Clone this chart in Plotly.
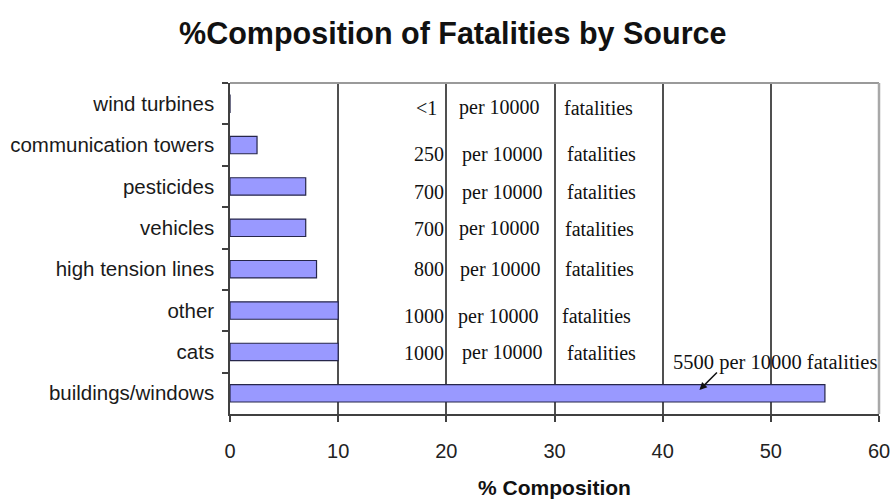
import plotly.graph_objects as go

# Sources, listed top to bottom
sources = [
    "wind turbines",
    "communication towers",
    "pesticides",
    "vehicles",
    "high tension lines",
    "other",
    "cats",
    "buildings/windows",
]

# Fatalities per 10000 attributed to each source
per_10000 = [0.5, 250, 700, 700, 800, 1000, 1000, 5500]

# Share of all fatalities, in percent
pct_composition = [v / 100 for v in per_10000]

x_ticks = [0, 10, 20, 30, 40, 50, 60]

SERIF = "Liberation Serif, Times New Roman, serif"
SANS = "Liberation Sans, Arial, sans-serif"


def rate_label(v):
    return "<1" if v < 1 else f"{v:g}"


fig = go.Figure()
fig.add_trace(
    go.Bar(
        y=sources,
        x=pct_composition,
        orientation="h",
        width=0.42,
        marker=dict(color="#9999FF", line=dict(color="#26264a", width=1.2)),
        hoverinfo="x+y",
    )
)

# In-chart labels for every source except the largest one
# (vertical nudges in category units, horizontal starts in axis units)
row_dy = [0.1, 0.22, 0.14, 0.02, 0.0, 0.14, 0.02]
per_x = [20.95, 21.3, 21.3, 20.95, 21.1, 20.85, 21.3]
fat_x = [30.65, 31.0, 31.0, 30.75, 30.75, 30.55, 31.0]
num_x = [19.35, 20.0, 20.0, 20.0, 20.0, 20.0, 20.0]

annotations = []
for i in range(len(sources) - 1):
    yy = i + row_dy[i]
    common = dict(xref="x", yref="y", y=yy, showarrow=False, yanchor="middle",
                  font=dict(family=SERIF, size=20, color="#111"))
    annotations.append(dict(x=num_x[i], text=rate_label(per_10000[i]), xanchor="right", **common))
    annotations.append(dict(x=per_x[i], text="per 10000", xanchor="left", **common))
    annotations.append(dict(x=fat_x[i], text="fatalities", xanchor="left", **common))

# Callout for the largest source
last = len(sources) - 1
annotations.append(
    dict(
        xref="x", yref="y", x=40.8, y=last - 0.75,
        text=f"{per_10000[last]:g} per 10000 fatalities",
        showarrow=False, xanchor="left", yanchor="middle",
        font=dict(family=SERIF, size=20.5, color="#111"),
    )
)
annotations.append(
    dict(
        xref="x", yref="y", x=43.4, y=last - 0.08,
        text="", showarrow=True, arrowhead=2, arrowsize=1, arrowwidth=1.5,
        arrowcolor="#111", ax=19, ay=-19, axref="pixel", ayref="pixel",
    )
)

fig.update_layout(
    width=893,
    height=500,
    margin=dict(l=230, r=14, t=83, b=86),
    paper_bgcolor="white",
    plot_bgcolor="white",
    showlegend=False,
    bargap=0.58,
    title=dict(
        text="%Composition of Fatalities by Source",
        x=0.507, xanchor="center", y=0.934, yanchor="middle", yref="container",
        font=dict(family=SANS, size=30.5, color="#111", weight="bold"),
    ),
    xaxis=dict(
        range=[0, 60],
        tickvals=x_ticks,
        ticktext=[str(t) for t in x_ticks],
        showgrid=True, gridcolor="#505050", gridwidth=1.5,
        showline=True, linecolor="#404040", linewidth=1.5,
        ticks="outside", ticklen=6, tickwidth=1.5, tickcolor="#404040",
        ticklabelstandoff=12,
        zeroline=False,
        automargin=False,
        tickfont=dict(family=SANS, size=20, color="#222"),
        title=dict(text="% Composition", standoff=20,
                   font=dict(family=SANS, size=21, color="#111", weight="bold")),
        fixedrange=True,
    ),
    yaxis=dict(
        categoryorder="array",
        categoryarray=sources,
        autorange="reversed",
        showline=True, linecolor="#404040", linewidth=1.5,
        ticks="outside", ticklen=6, tickwidth=1.5, tickcolor="#404040",
        tickson="boundaries",
        showgrid=False,
        ticklabelstandoff=10,
        automargin=False,
        tickfont=dict(family=SANS, size=20.5, color="#1a1a1a"),
        fixedrange=True,
    ),
    annotations=annotations,
    shapes=[
        # light frame along the top and right of the plotting area
        dict(type="line", xref="paper", yref="paper", x0=0, x1=1, y0=1, y1=1,
             line=dict(color="#9a9a9a", width=2), layer="above"),
        dict(type="line", xref="paper", yref="paper", x0=1, x1=1, y0=0, y1=1,
             line=dict(color="#a8a8a8", width=2.5), layer="above"),
    ],
)

fig.write_html("out.html")
